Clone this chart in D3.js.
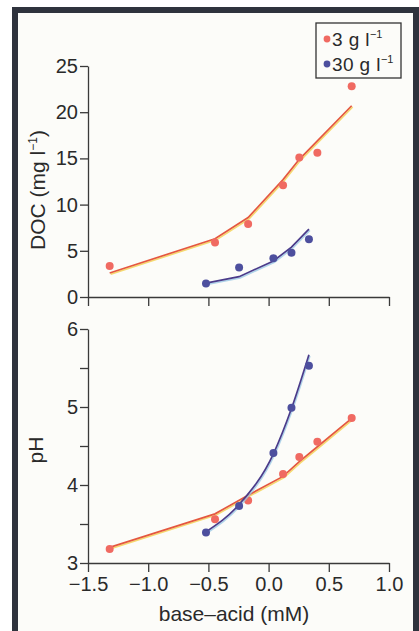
<!DOCTYPE html>
<html>
<head>
<meta charset="utf-8">
<script src="https://cdn.jsdelivr.net/npm/d3@7.9.0/dist/d3.min.js"></script>
<style>
  html, body { margin: 0; padding: 0; background: #fff; }
  svg { display: block; font-family: "Liberation Sans", Arial, sans-serif; }
  .axis path, .axis line { stroke: #3a3a3a; stroke-width: 1.3; }
  .axis text { fill: #2a2a2a; font-size: 20px; font-family: "Liberation Sans", Arial, sans-serif; }
</style>
</head>
<body>
<svg id="chart" width="419" height="631"></svg>
<script>
// x positions (base-acid, mM)
const xs3 = [-1.32, -0.445, -0.17, 0.12, 0.255, 0.405, 0.69];
const xs30 = [-0.52, -0.245, 0.04, 0.19, 0.335];

// DOC (mg l-1)
const doc3 = [3.35, 5.9, 7.9, 12.1, 15.1, 15.6, 22.8];
const docFit3 = [2.6, 6.3, 8.6, 12.7, 14.9, 16.9, 20.7];
const doc30 = [1.45, 3.2, 4.2, 4.8, 6.25];
const docFit30 = [1.5, 2.2, 3.9, 5.4, 7.35];

// pH
const ph3 = [3.18, 3.56, 3.8, 4.14, 4.36, 4.555, 4.86];
const phFit3 = [3.2, 3.63, 3.87, 4.11, 4.3, 4.49, 4.855];
const ph30 = [3.39, 3.73, 4.41, 4.99, 5.53];
const phFit30 = [3.4, 3.75, 4.4, 4.98, 5.67];

const xTicks = [-1.5, -1.0, -0.5, 0.0, 0.5, 1.0];
const docTicks = [0, 5, 10, 15, 20, 25];
const phTicks = [3, 3.5, 4, 4.5, 5, 5.5, 6];
const legendLabels = ['3 g l', '30 g l'];

const red = '#f06a62', redLine = '#e4583f', redShadow = '#f4cf4a';
const blue = '#4d4f9e', blueLine = '#4a3b8a', blueShadow = '#9bc9e6';

const svg = d3.select('#chart');

// frame
svg.append('rect').attr('x', 12).attr('y', 7).attr('width', 407).attr('height', 624).attr('fill', '#2f333d');
svg.append('rect').attr('x', 18).attr('y', 13).attr('width', 395).attr('height', 618).attr('fill', '#fcfcf9');

const x = d3.scaleLinear().domain([-1.5, 1.0]).range([88, 389]);
const yDoc = d3.scaleLinear().domain([0, 25]).range([297, 66]);
const yPh = d3.scaleLinear().domain([3, 6]).range([563, 329]);

// axes
svg.append('g').attr('class', 'axis').attr('transform', `translate(0,${yDoc(0)})`)
  .call(d3.axisBottom(x).tickValues(xTicks).tickSize(9).tickSizeOuter(0).tickFormat(''));
svg.append('g').attr('class', 'axis').attr('transform', `translate(${x(-1.5)},0)`)
  .call(d3.axisLeft(yDoc).tickValues(docTicks).tickSize(8).tickSizeOuter(0).tickPadding(2).tickFormat(d3.format('d')));

svg.append('g').attr('class', 'axis').attr('transform', `translate(0,${yPh(3)})`)
  .call(d3.axisBottom(x).tickValues(xTicks).tickSize(9).tickSizeOuter(0).tickPadding(5).tickFormat(d3.format('.1f')));
svg.append('g').attr('class', 'axis').attr('transform', `translate(${x(-1.5)},0)`)
  .call(d3.axisLeft(yPh).tickValues(phTicks).tickSize(8).tickSizeOuter(0).tickPadding(2)
    .tickFormat((d) => (Number.isInteger(d) ? d : '')));

// series
function drawSeries(xs, pts, fit, yScale, col, lineCol, shadowCol, curve) {
  const line = d3.line().x((d, i) => x(xs[i])).y((d) => yScale(d)).curve(curve || d3.curveLinear);
  svg.append('path').attr('d', line(fit)).attr('fill', 'none')
    .attr('stroke', shadowCol).attr('stroke-width', 1.5).attr('opacity', 0.8)
    .attr('transform', 'translate(1,1.3)');
  svg.append('path').attr('d', line(fit)).attr('fill', 'none')
    .attr('stroke', lineCol).attr('stroke-width', 1.7);
  svg.append('g').selectAll('circle').data(pts).join('circle')
    .attr('cx', (d, i) => x(xs[i])).attr('cy', (d) => yScale(d))
    .attr('r', 4).attr('fill', col);
}

drawSeries(xs3, doc3, docFit3, yDoc, red, redLine, redShadow);
drawSeries(xs30, doc30, docFit30, yDoc, blue, blueLine, blueShadow);
drawSeries(xs3, ph3, phFit3, yPh, red, redLine, redShadow);
drawSeries(xs30, ph30, phFit30, yPh, blue, blueLine, blueShadow, d3.curveMonotoneX);

// axis titles
const docTitle = svg.append('text').attr('transform', 'translate(45,190) rotate(-90)')
  .attr('text-anchor', 'middle').attr('font-size', 21).attr('fill', '#2a2a2a');
docTitle.append('tspan').text('DOC (mg l');
docTitle.append('tspan').attr('font-size', 12).attr('dy', -8).text('−1');
docTitle.append('tspan').attr('dy', 8).text(')');

svg.append('text').attr('transform', 'translate(43,450) rotate(-90)')
  .attr('text-anchor', 'middle').attr('font-size', 21).attr('fill', '#2a2a2a').text('pH');

svg.append('text').attr('x', 234).attr('y', 621).attr('text-anchor', 'middle')
  .attr('font-size', 21).attr('fill', '#2a2a2a').text('base–acid (mM)');

// legend
const legend = svg.append('g');
legend.append('rect').attr('x', 316).attr('y', 23).attr('width', 85).attr('height', 55)
  .attr('fill', '#fcfcf9').attr('stroke', '#333').attr('stroke-width', 1.3);
[red, blue].forEach((c, i) => {
  const cy = 39 + i * 25;
  legend.append('circle').attr('cx', 327).attr('cy', cy).attr('r', 3.4).attr('fill', c);
  const t = legend.append('text').attr('x', 332).attr('y', cy + 7).attr('font-size', 19)
    .attr('letter-spacing', 0.4).attr('fill', '#2a2a2a');
  t.append('tspan').text(legendLabels[i]);
  t.append('tspan').attr('font-size', 11).attr('dy', -8).attr('letter-spacing', 0).text('−1');
});
</script>
</body>
</html>
